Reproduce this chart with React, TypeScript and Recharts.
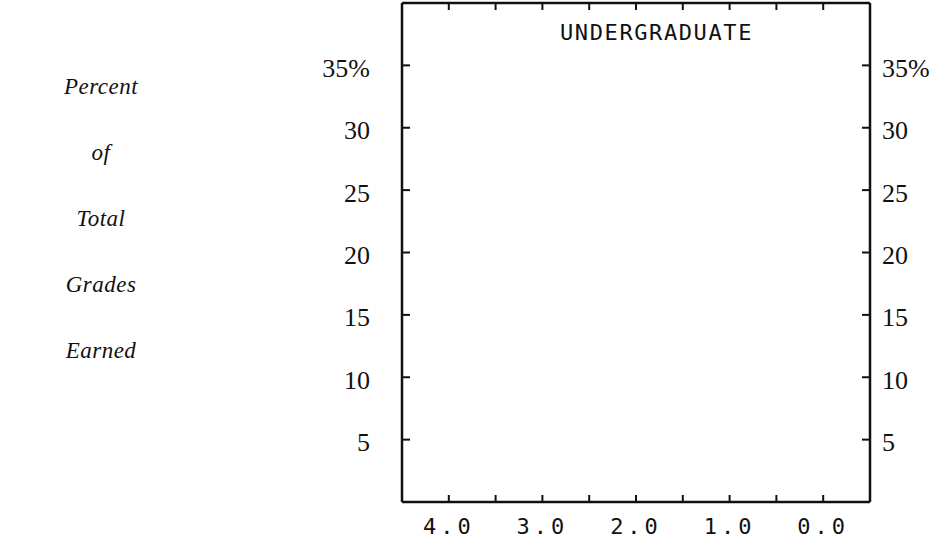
import { ComposedChart, XAxis, YAxis, Line } from 'recharts';

// grade points on the horizontal axis (reversed, 4.0 on the left)
const gradeTicks = [4.0, 3.5, 3.0, 2.5, 2.0, 1.5, 1.0, 0.5, 0.0];
const percentTicks = [5, 10, 15, 20, 25, 30, 35];
const sideLabel = ['Percent', 'of', 'Total', 'Grades', 'Earned'];
const title = 'UNDERGRADUATE';

// the panel is empty in the original: grades have no plotted share
const rows = gradeTicks.map((grade) => ({ grade, share: null as number | null }));

const W = 933;
const H = 546;
const INK = '#111';
const SERIF = '"Liberation Serif", "DejaVu Serif", serif';
const MONO = '"DejaVu Sans Mono", "Liberation Mono", monospace';

const fmtPct = (v: number) => (v === 35 ? '35%' : String(v));
const fmtGrade = (v: number) => (Number.isInteger(v) ? v.toFixed(1) : '');

const leftTick = (props: any) => {
  const { x, y, payload } = props;
  return (
    <g>
      <line x1={x} x2={x + 8} y1={y} y2={y} stroke={INK} strokeWidth={2} />
      <text x={x - 32} y={y + 3} textAnchor="end" dominantBaseline="central" fontFamily={SERIF} fontSize={26} fill={INK}>
        {fmtPct(payload.value)}
      </text>
    </g>
  );
};

const rightTick = (props: any) => {
  const { x, y, payload } = props;
  return (
    <g>
      <line x1={x - 8} x2={x} y1={y} y2={y} stroke={INK} strokeWidth={2} />
      <text x={x + 12} y={y + 3} textAnchor="start" dominantBaseline="central" fontFamily={SERIF} fontSize={26} fill={INK}>
        {fmtPct(payload.value)}
      </text>
    </g>
  );
};

const bottomTick = (props: any) => {
  const { x, y, payload } = props;
  return (
    <g>
      <line x1={x} x2={x} y1={y - 7} y2={y} stroke={INK} strokeWidth={2} />
      <text x={x} y={y + 24} textAnchor="middle" dominantBaseline="central" fontFamily={MONO} fontSize={22} letterSpacing={4} fill={INK}>
        {fmtGrade(payload.value)}
      </text>
    </g>
  );
};

const topTick = (props: any) => {
  const { x, y } = props;
  return <line x1={x} x2={x} y1={y} y2={y + 7} stroke={INK} strokeWidth={2} />;
};

export default function App() {
  return (
    <div style={{ position: 'absolute', left: 0, top: 0, width: W, height: H, background: '#fff' }}>
      <ComposedChart width={W} height={H} data={rows} margin={{ top: 0, right: 3, bottom: 0, left: 342 }}>
        <XAxis
          xAxisId="bottom"
          dataKey="grade"
          type="number"
          domain={[-0.5, 4.5]}
          allowDataOverflow
          reversed
          ticks={gradeTicks}
          interval={0}
          height={44}
          tickSize={0}
          tickMargin={0}
          tickLine={false}
          axisLine={{ stroke: INK, strokeWidth: 2.5 }}
          tick={bottomTick}
        />
        <XAxis
          xAxisId="top"
          dataKey="grade"
          orientation="top"
          type="number"
          domain={[-0.5, 4.5]}
          allowDataOverflow
          reversed
          ticks={gradeTicks}
          interval={0}
          height={3}
          tickSize={0}
          tickMargin={0}
          tickLine={false}
          axisLine={{ stroke: INK, strokeWidth: 2.5 }}
          tick={topTick}
        />
        <YAxis
          yAxisId="left"
          type="number"
          domain={[0, 40]}
          allowDataOverflow
          ticks={percentTicks}
          interval={0}
          width={60}
          tickSize={0}
          tickMargin={0}
          tickLine={false}
          axisLine={{ stroke: INK, strokeWidth: 2.5 }}
          tick={leftTick}
        />
        <YAxis
          yAxisId="right"
          orientation="right"
          type="number"
          domain={[0, 40]}
          allowDataOverflow
          ticks={percentTicks}
          interval={0}
          width={60}
          tickSize={0}
          tickMargin={0}
          tickLine={false}
          axisLine={{ stroke: INK, strokeWidth: 2.5 }}
          tick={rightTick}
        />
        <Line xAxisId="bottom" yAxisId="left" dataKey="share" stroke="none" dot={false} isAnimationActive={false} />
        <Line xAxisId="top" yAxisId="right" dataKey="share" stroke="none" dot={false} isAnimationActive={false} />
      </ComposedChart>

      {/* panel title inside the frame */}
      <div
        style={{
          position: 'absolute',
          left: 560,
          top: 19,
          fontFamily: MONO,
          fontSize: 22,
          letterSpacing: 1.6,
          color: INK,
          lineHeight: '28px',
        }}
      >
        {title}
      </div>

      {/* stacked axis caption on the left */}
      {sideLabel.map((word, i) => (
        <div
          key={word}
          style={{
            position: 'absolute',
            left: 36,
            width: 130,
            top: 73 + i * 66,
            textAlign: 'center',
            fontFamily: SERIF,
            fontStyle: 'italic',
            fontSize: 23,
            letterSpacing: 0.5,
            color: INK,
            lineHeight: '28px',
          }}
        >
          {word}
        </div>
      ))}
    </div>
  );
}
